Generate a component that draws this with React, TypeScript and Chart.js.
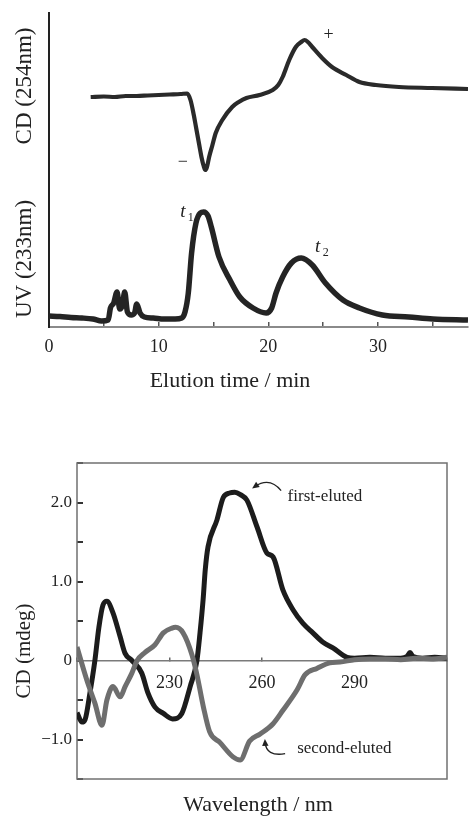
import React, { useEffect, useRef } from 'react';
import { Chart, registerables } from 'chart.js';

Chart.register(...registerables);

const SERIF = "'Liberation Serif', 'Times New Roman', 'DejaVu Serif', serif";

// ---------- Top panel: chromatogram (elution time, min) ----------
const cdTime = [3.8, 5, 6, 7, 8, 9, 10, 11, 12, 12.6, 12.9, 13.2, 13.4, 13.7, 13.9, 14.1, 14.25, 14.4, 14.6, 14.9, 15.2, 15.8, 16.7, 17.3, 18, 19.2, 20.4, 20.9, 21.3, 21.9, 22.5, 23, 23.3, 23.6, 24, 24.9, 25.8, 27.1, 28.3, 29.8, 31.9, 34.9, 38.2];
const cdSignal = [0.0, 0.05, 0.0, 0.1, 0.1, 0.15, 0.2, 0.25, 0.3, 0.35, -0.3, -1.8, -3.0, -4.8, -6.0, -6.9, -7.3, -7.0, -6.0, -4.8, -3.6, -2.3, -1.0, -0.5, -0.1, 0.2, 0.7, 1.2, 2.0, 3.7, 5.0, 5.5, 5.7, 5.5, 5.0, 3.9, 3.0, 2.2, 1.5, 1.2, 1.0, 0.9, 0.8];

const uvTime = [0, 1, 2, 3, 4, 4.8, 5.4, 5.6, 5.9, 6.2, 6.45, 6.7, 6.9, 7.15, 7.5, 7.8, 8.0, 8.3, 8.7, 9.5, 10.5, 11.5, 12.1, 12.4, 12.7, 13.0, 13.4, 13.8, 14.1, 14.5, 14.8, 15.5, 16.5, 17.4, 18.6, 19.8, 20.3, 20.7, 21.3, 22.1, 23, 24, 25.2, 26.8, 28.3, 30.4, 32.8, 35, 38.2];
const uvSignal = [0.2, 0.15, 0.05, 0.0, -0.1, -0.3, -0.2, 1.0, 1.5, 2.6, 0.9, 1.3, 2.6, 0.6, 0.3, 0.5, 1.4, 0.5, 0.1, 0.0, -0.1, -0.1, 0.0, 0.6, 2.5, 6.5, 9.5, 10.5, 10.6, 10.2, 9.1, 6.1, 3.8, 2.1, 1.0, 0.5, 1.0, 2.5, 4.1, 5.5, 6.0, 5.3, 3.5, 1.8, 1.0, 0.3, 0.1, -0.1, -0.2];

const elutionTickLabels = [0, 10, 20, 30];

// ---------- Bottom panel: CD spectra (wavelength, nm) ----------
const wlFirst = [200, 201.6, 202.6, 204.2, 205.8, 207.1, 208.4, 209.7, 211.7, 214, 215.6, 217.8, 221, 223, 225.3, 228, 231, 234, 236.7, 238.9, 239.9, 240.9, 241.6, 242.5, 245.4, 247.4, 249.5, 251.2, 253, 255.1, 258.4, 261.6, 263.6, 266.8, 270.1, 273.3, 276.5, 279.8, 283, 287.6, 290, 295, 300, 305, 307, 308, 309, 312, 316, 320];
const cdFirst = [-0.66, -0.78, -0.75, -0.41, 0.0, 0.42, 0.7, 0.75, 0.6, 0.3, 0.09, 0.0, -0.16, -0.41, -0.59, -0.67, -0.74, -0.67, -0.33, 0.0, 0.35, 0.77, 1.15, 1.44, 1.78, 2.06, 2.12, 2.13, 2.1, 2.03, 1.69, 1.36, 1.31, 0.89, 0.64, 0.47, 0.35, 0.23, 0.16, 0.04, 0.03, 0.04, 0.03, 0.03, 0.05, 0.1, 0.05, 0.03, 0.04, 0.03];

const wlSecond = [200, 203.2, 205.8, 208.1, 209.7, 211.7, 214, 215.6, 217.8, 219.5, 222, 225.3, 228, 230.8, 232, 234.4, 237.3, 238.9, 241, 243, 246.4, 250.6, 252.9, 256, 259.4, 263.6, 266.8, 271.4, 274, 277.8, 282, 285.3, 290, 295, 300, 305, 310, 315, 320];
const cdSecond = [0.17, -0.25, -0.54, -0.82, -0.5, -0.33, -0.46, -0.33, -0.16, 0.0, 0.1, 0.2, 0.35, 0.41, 0.42, 0.35, 0.07, -0.18, -0.59, -0.9, -1.04, -1.22, -1.26, -1.02, -0.93, -0.8, -0.63, -0.37, -0.18, -0.1, -0.03, -0.02, 0.01, 0.02, 0.02, 0.01, 0.03, 0.02, 0.04];

const wavelengthTickLabels = [230, 260, 290];
const cdTickLabels = [2, 1, 0, -1];

const pts = (xs: number[], ys: number[]) => xs.map((x, i) => ({ x, y: ys[i] }));

function rotatedText(ctx: CanvasRenderingContext2D, text: string, x: number, y: number) {
  ctx.save();
  ctx.translate(x, y);
  ctx.rotate(-Math.PI / 2);
  ctx.textAlign = 'center';
  ctx.textBaseline = 'middle';
  ctx.fillText(text, 0, 0);
  ctx.restore();
}

const elutionDecor = {
  id: 'elutionDecor',
  afterDraw(chart: any) {
    const { ctx, scales } = chart;
    const x = scales.x, yCD = scales.yCD, yUV = scales.yUV;
    ctx.save();
    ctx.fillStyle = '#222';
    ctx.font = `23px ${SERIF}`;
    rotatedText(ctx, 'CD (254nm)', 25, 86);
    rotatedText(ctx, 'UV (233nm)', 25, 259);
    ctx.textAlign = 'center';
    ctx.textBaseline = 'middle';
    ctx.font = `22px ${SERIF}`;
    ctx.fillText('Elution time / min', 230, 381);
    // peak sign markers
    ctx.font = `18px ${SERIF}`;
    ctx.fillText('+', x.getPixelForValue(25.5), yCD.getPixelForValue(6.2));
    ctx.fillText('\u2212', x.getPixelForValue(12.2), yCD.getPixelForValue(-6.5));
    // t1, t2 labels
    const drawT = (sub: string, tx: number, ty: number) => {
      const px = x.getPixelForValue(tx), py = yUV.getPixelForValue(ty);
      ctx.font = `italic 19px ${SERIF}`;
      ctx.fillText('t', px, py);
      ctx.font = `12px ${SERIF}`;
      ctx.fillText(sub, px + 8, py + 6);
    };
    drawT('1', 12.2, 10.6);
    drawT('2', 24.5, 7.1);
    ctx.restore();
  },
};

function drawArrow(ctx: CanvasRenderingContext2D, p0: number[], c: number[], p1: number[]) {
  ctx.beginPath();
  ctx.moveTo(p0[0], p0[1]);
  ctx.quadraticCurveTo(c[0], c[1], p1[0], p1[1]);
  ctx.stroke();
  const ang = Math.atan2(p1[1] - c[1], p1[0] - c[0]);
  const L = 7, W = 3.2;
  const tipX = p1[0] + Math.cos(ang) * 3, tipY = p1[1] + Math.sin(ang) * 3;
  ctx.beginPath();
  ctx.moveTo(tipX, tipY);
  ctx.lineTo(tipX - Math.cos(ang) * L - Math.sin(ang) * W, tipY - Math.sin(ang) * L + Math.cos(ang) * W);
  ctx.lineTo(tipX - Math.cos(ang) * L + Math.sin(ang) * W, tipY - Math.sin(ang) * L - Math.cos(ang) * W);
  ctx.closePath();
  ctx.fill();
}

const spectrumDecor = {
  id: 'spectrumDecor',
  beforeDatasetsDraw(chart: any) {
    const { ctx, chartArea } = chart;
    ctx.save();
    ctx.strokeStyle = '#707070';
    ctx.lineWidth = 1.5;
    ctx.strokeRect(chartArea.left, chartArea.top, chartArea.right - chartArea.left, chartArea.bottom - chartArea.top);
    ctx.restore();
  },
  afterDraw(chart: any) {
    const { ctx, scales } = chart;
    const x = scales.x, y = scales.y;
    const P = (wl: number, v: number) => [x.getPixelForValue(wl), y.getPixelForValue(v)];
    ctx.save();
    ctx.fillStyle = '#222';
    ctx.strokeStyle = '#222';
    ctx.lineWidth = 1.3;
    ctx.font = `21px ${SERIF}`;
    rotatedText(ctx, 'CD (mdeg)', 24, 231);
    ctx.textAlign = 'center';
    ctx.textBaseline = 'middle';
    ctx.font = `22px ${SERIF}`;
    ctx.fillText('Wavelength / nm', 258, 385);
    ctx.font = `17px ${SERIF}`;
    ctx.textAlign = 'left';
    const f = P(268.3, 2.08);
    ctx.fillText('first-eluted', f[0], f[1]);
    const s = P(271.4, -1.12);
    ctx.fillText('second-eluted', s[0], s[1]);
    drawArrow(ctx, P(266.2, 2.15), P(262.5, 2.33), P(257.6, 2.2));
    drawArrow(ctx, P(267.5, -1.18), P(261.3, -1.22), P(261.0, -1.03));
    ctx.restore();
  },
};

export default function App() {
  const topRef = useRef<HTMLCanvasElement>(null);
  const bottomRef = useRef<HTMLCanvasElement>(null);

  useEffect(() => {
    const top = new Chart(topRef.current as HTMLCanvasElement, {
      type: 'line',
      data: {
        datasets: [
          {
            label: 'UV (233nm)',
            data: pts(uvTime, uvSignal),
            yAxisID: 'yUV',
            borderColor: '#242424',
            borderWidth: 5.5,
            pointRadius: 0,
            cubicInterpolationMode: 'monotone',
            fill: false,
          },
          {
            label: 'CD (254nm)',
            data: pts(cdTime, cdSignal),
            yAxisID: 'yCD',
            borderColor: '#2a2a2a',
            borderWidth: 4.2,
            pointRadius: 0,
            cubicInterpolationMode: 'monotone',
            fill: false,
          },
        ],
      },
      options: {
        animation: false,
        responsive: false,
        layout: { padding: { top: 13, right: 5, left: 0, bottom: 0 } },
        plugins: { legend: { display: false }, tooltip: { enabled: false } },
        scales: {
          x: {
            type: 'linear',
            position: 'bottom',
            min: 0,
            max: 38.2,
            ticks: {
              stepSize: 5,
              includeBounds: false,
              autoSkip: false,
              maxRotation: 0,
              padding: 14,
              color: '#222',
              font: { family: SERIF, size: 18 },
              callback: (v: any) => (elutionTickLabels.includes(Number(v)) ? String(v) : ''),
            },
            grid: { display: true, drawOnChartArea: false, drawTicks: true, tickLength: -5, color: '#555', lineWidth: 1.5 },
            border: { display: true, color: '#8a8a8a', width: 2 },
            afterFit: (s: any) => { s.height = 73; },
          },
          yUV: {
            type: 'linear',
            position: 'left',
            stack: 'left',
            stackWeight: 147,
            min: -0.9,
            max: 13.8,
            ticks: { display: false },
            grid: { display: false },
            border: { display: true, color: '#222', width: 2 },
            afterFit: (s: any) => { s.width = 49; },
          },
          yCD: {
            type: 'linear',
            position: 'left',
            stack: 'left',
            stackWeight: 167,
            min: -8.3,
            max: 8.4,
            ticks: { display: false },
            grid: { display: false },
            border: { display: true, color: '#222', width: 2 },
            afterFit: (s: any) => { s.width = 49; },
          },
        },
      } as any,
      plugins: [elutionDecor],
    } as any);

    const bottom = new Chart(bottomRef.current as HTMLCanvasElement, {
      type: 'line',
      data: {
        datasets: [
          {
            label: 'second-eluted',
            data: pts(wlSecond, cdSecond),
            borderColor: '#6e6e6e',
            borderWidth: 5,
            pointRadius: 0,
            cubicInterpolationMode: 'monotone',
            fill: false,
          },
          {
            label: 'first-eluted',
            data: pts(wlFirst, cdFirst),
            borderColor: '#1c1c1c',
            borderWidth: 5,
            pointRadius: 0,
            cubicInterpolationMode: 'monotone',
            fill: false,
          },
        ],
      },
      options: {
        animation: false,
        responsive: false,
        layout: { padding: { top: 43, right: 26, left: 0, bottom: 37 } },
        plugins: { legend: { display: false }, tooltip: { enabled: false } },
        scales: {
          x: {
            type: 'linear',
            position: { y: 0 },
            min: 200,
            max: 320,
            ticks: {
              stepSize: 30,
              autoSkip: false,
              maxRotation: 0,
              padding: 16,
              color: '#222',
              font: { family: SERIF, size: 18 },
              callback: (v: any) => (wavelengthTickLabels.includes(Number(v)) ? String(v) : ''),
            },
            grid: { display: true, drawOnChartArea: false, drawTicks: true, tickLength: -4, color: '#666', lineWidth: 1.5 },
            border: { display: true, color: '#7a7a7a', width: 1.5 },
          },
          y: {
            type: 'linear',
            position: 'left',
            min: -1.5,
            max: 2.5,
            ticks: {
              stepSize: 0.5,
              autoSkip: false,
              padding: 11,
              color: '#222',
              font: { family: SERIF, size: 17 },
              callback: (v: any) => {
                const n = Number(v);
                if (!cdTickLabels.includes(n)) return '';
                if (n === 0) return '0';
                return (n < 0 ? '\u2212' : '') + Math.abs(n).toFixed(1);
              },
            },
            grid: { display: true, drawOnChartArea: false, drawTicks: true, tickLength: -6, color: '#333', lineWidth: 2 },
            border: { display: false },
            afterFit: (s: any) => { s.width = 77; },
          },
        },
      } as any,
      plugins: [spectrumDecor],
    } as any);

    return () => {
      top.destroy();
      bottom.destroy();
    };
  }, []);

  return (
    <div style={{ position: 'absolute', left: 0, top: 0, width: 473, height: 816, background: '#fff' }}>
      <canvas ref={topRef} width={473} height={400} style={{ position: 'absolute', left: 0, top: 0 }} />
      <canvas ref={bottomRef} width={473} height={396} style={{ position: 'absolute', left: 0, top: 420 }} />
    </div>
  );
}
